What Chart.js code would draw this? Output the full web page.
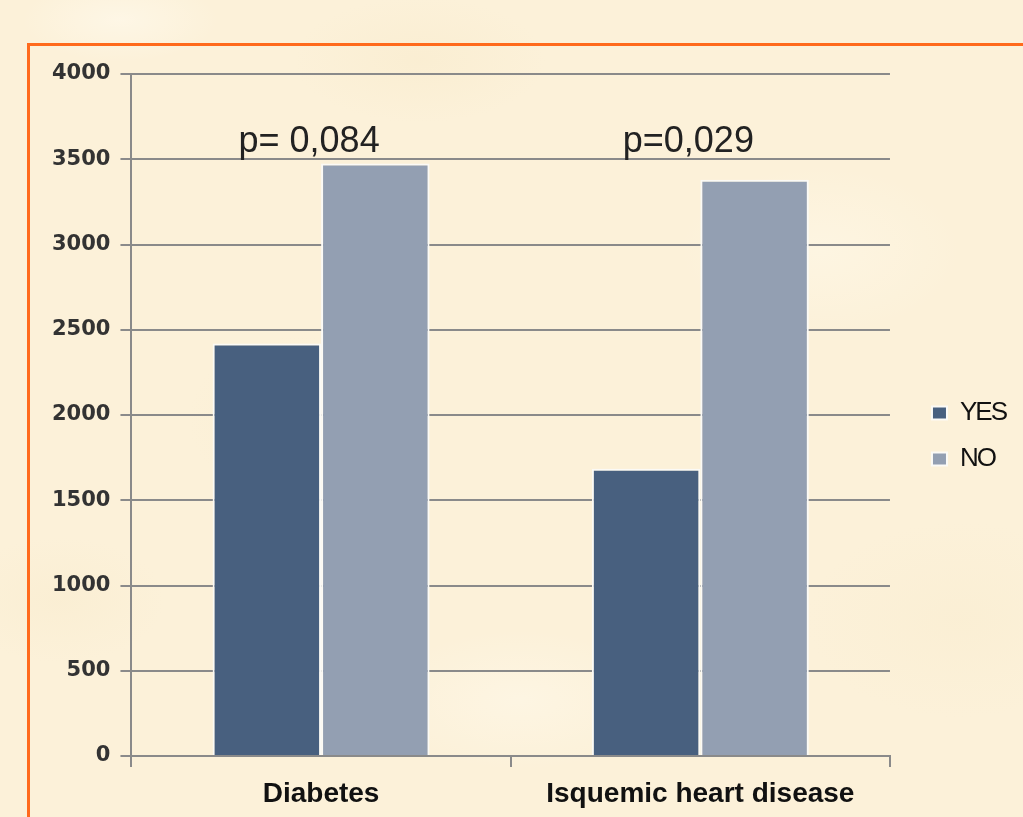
<!DOCTYPE html>
<html>
<head>
<meta charset="utf-8">
<script src="https://cdn.jsdelivr.net/npm/chart.js@4/dist/chart.umd.min.js"></script>
<style>
  html, body { margin: 0; padding: 0; }
  body {
    width: 1023px; height: 817px; overflow: hidden; position: relative;
    background-color: #fcf1d9;
    background-image:
      radial-gradient(ellipse 140px 60px at 120px 20px, rgba(255,250,238,0.6), rgba(255,250,238,0) 70%),
      radial-gradient(ellipse 180px 90px at 420px 60px, rgba(244,228,190,0.25), rgba(244,228,190,0) 70%),
      radial-gradient(ellipse 200px 120px at 820px 250px, rgba(255,249,234,0.5), rgba(255,249,234,0) 70%),
      radial-gradient(ellipse 160px 120px at 300px 420px, rgba(245,230,195,0.22), rgba(245,230,195,0) 70%),
      radial-gradient(ellipse 220px 140px at 960px 620px, rgba(246,232,198,0.25), rgba(246,232,198,0) 70%),
      radial-gradient(ellipse 200px 100px at 520px 700px, rgba(255,250,238,0.45), rgba(255,250,238,0) 70%),
      radial-gradient(ellipse 150px 90px at 60px 600px, rgba(244,229,192,0.22), rgba(244,229,192,0) 70%);
  }
  #frame {
    position: absolute; left: 27px; top: 43px; width: 1100px; height: 900px;
    border: 3px solid #ff6a1c; box-sizing: border-box;
  }
  #wrap { position: absolute; left: 0; top: 0; width: 1023px; height: 817px; }
</style>
</head>
<body>
<div id="frame"></div>
<div id="wrap"><canvas id="c"></canvas></div>
<script>
// Categories, series and annotations
const categories = ['Diabetes', 'Isquemic heart disease'];
const seriesNames = ['YES', 'NO'];
const yesValues = [2420, 1685];
const noValues = [3475, 3380];
const pValueLabels = ['p= 0,084', 'p=0,029'];
const yTicks = [0, 500, 1000, 1500, 2000, 2500, 3000, 3500, 4000];

const GRID = '#8a8a8a';

// Draws the p-value above each group, and handles text spacing per layer
const pLabelPlugin = {
  id: 'pLabels',
  beforeDraw(chart) {
    // legend text is drawn with tight spacing
    chart.ctx.letterSpacing = '-2px';
  },
  afterDatasetsDraw(chart) {
    chart.ctx.letterSpacing = '0px';
  },
  afterDraw(chart) {
    const ctx = chart.ctx;
    const x = chart.scales.x;
    const y = chart.scales.y;
    ctx.save();
    ctx.letterSpacing = '0px';
    ctx.font = '36px "Liberation Sans", Arial, sans-serif';
    ctx.fillStyle = '#222';
    ctx.textAlign = 'center';
    ctx.textBaseline = 'alphabetic';
    pValueLabels.forEach((t, i) => {
      ctx.fillText(t, x.getPixelForValue(i) - 12, y.getPixelForValue(3500) - 7);
    });
    ctx.restore();
  }
};

// Empty spacer axes that only reserve room around the plot
const spacer = (size) => ({
  display: true,
  grid: { display: false }, border: { display: false },
  ticks: { display: false },
  afterFit: (s) => { if (s.isHorizontal()) s.height = size; else s.width = size; }
});

new Chart(document.getElementById('c'), {
  type: 'bar',
  data: {
    labels: categories,
    datasets: [
      { label: seriesNames[0], data: yesValues, backgroundColor: '#48607f',
        borderColor: '#fbfaf6', borderWidth: 2 },
      { label: seriesNames[1], data: noValues, backgroundColor: '#939fb2',
        borderColor: '#fbfaf6', borderWidth: 2 }
    ]
  },
  options: {
    responsive: true,
    maintainAspectRatio: false,
    animation: false,
    devicePixelRatio: 1,
    layout: { padding: { top: 60, right: 1, bottom: 5, left: 42 } },
    datasets: { bar: { categoryPercentage: 0.572, barPercentage: 1.0 } },
    plugins: {
      tooltip: { enabled: false },
      legend: {
        position: 'right',
        labels: {
          boxWidth: 15, boxHeight: 13, padding: 20,
          color: '#111',
          font: { family: '"Liberation Sans", Arial, sans-serif', size: 26 }
        }
      }
    },
    scales: {
      x: {
        afterFit: (s) => { s.height = 56; },
        grid: { display: true, drawOnChartArea: false, drawTicks: true, tickLength: 11,
                color: GRID, lineWidth: 2, offset: true },
        border: { display: true, color: GRID, width: 2 },
        ticks: {
          z: 1,
          color: '#111', padding: 13,
          font: { family: '"Liberation Sans", Arial, sans-serif', size: 28, weight: 'bold', lineHeight: 1.0 }
        }
      },
      y: {
        min: 0, max: 4000,
        afterBuildTicks: (s) => { s.ticks = yTicks.map(v => ({ value: v })); },
        grid: { color: GRID, lineWidth: 2, tickLength: 11, drawTicks: true },
        border: { display: true, color: GRID, width: 2 },
        ticks: {
          z: 1,
          color: '#333', padding: 10,
          callback: (v) => String(v),
          font: { family: '"DejaVu Sans", sans-serif', size: 21, weight: 'bold' }
        }
      },
      gapTop: Object.assign({ position: 'top' }, spacer(14)),
      gap: Object.assign({ position: 'right' }, spacer(22))
    }
  },
  plugins: [pLabelPlugin]
});
</script>
</body>
</html>
